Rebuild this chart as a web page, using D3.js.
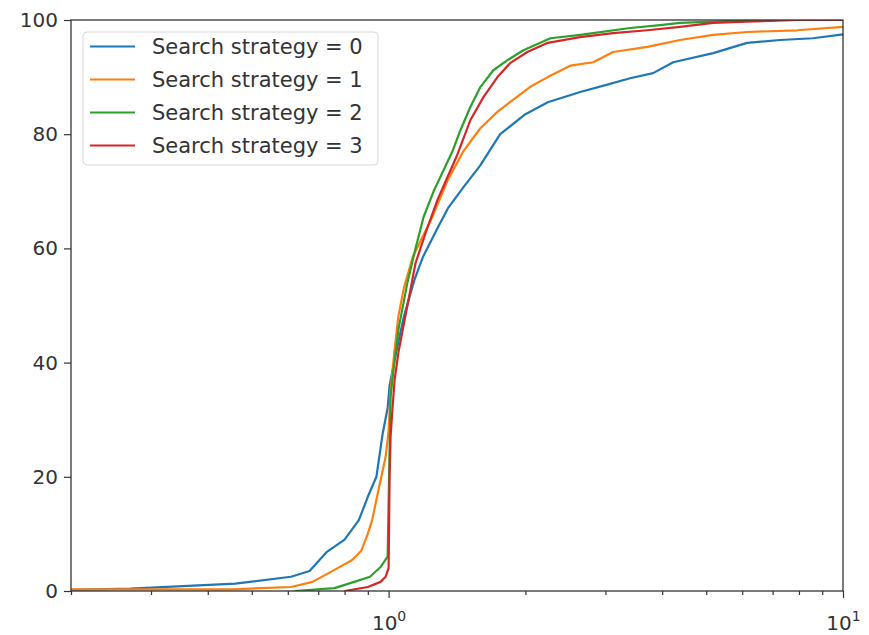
<!DOCTYPE html>
<html>
<head>
<meta charset="utf-8">
<script src="https://cdn.jsdelivr.net/npm/d3@7"></script>
<style>
  body { margin: 0; background: #fff; }
  text { font-family: "DejaVu Sans", sans-serif; }
</style>
</head>
<body>
<svg id="svg"></svg>
<script>
// values (x on log scale, y in percent)
const seriesNames = ["Search strategy = 0", "Search strategy = 1", "Search strategy = 2", "Search strategy = 3"];

const x0 = [0.2, 0.27, 0.46, 0.61, 0.67, 0.73, 0.80, 0.86, 0.90, 0.94, 0.97, 0.995, 1.005, 1.04, 1.08, 1.14, 1.19, 1.28, 1.35, 1.46, 1.59, 1.76, 2.0, 2.24, 2.64, 3.0, 3.4, 3.82, 4.23, 5.18, 6.15, 7.27, 8.59, 10];
const y0 = [0.2, 0.4, 1.3, 2.5, 3.5, 6.8, 9, 12.4, 16.5, 20, 27.5, 32, 36, 42, 48, 54.5, 58.5, 63.5, 67, 70.7, 74.5, 80, 83.5, 85.6, 87.4, 88.6, 89.8, 90.7, 92.6, 94.2, 96, 96.5, 96.8, 97.5];

const x1 = [0.2, 0.45, 0.61, 0.68, 0.76, 0.83, 0.87, 0.90, 0.92, 0.95, 0.985, 1.0, 1.01, 1.03, 1.05, 1.08, 1.13, 1.24, 1.35, 1.46, 1.59, 1.74, 2.05, 2.24, 2.51, 2.82, 3.12, 3.71, 4.38, 5.18, 6.15, 7.92, 10];
const y1 = [0.3, 0.3, 0.7, 1.6, 3.7, 5.4, 7, 10, 12.4, 17.7, 23.5, 28, 35, 42, 48, 53, 58.5, 65, 72, 77, 81, 84, 88.3, 90, 92, 92.6, 94.4, 95.3, 96.5, 97.4, 97.9, 98.2, 98.8];

const x2 = [0.62, 0.76, 0.84, 0.91, 0.96, 0.995, 1.01, 1.026, 1.052, 1.10, 1.146, 1.194, 1.256, 1.321, 1.382, 1.439, 1.514, 1.593, 1.70, 1.83, 1.98, 2.27, 2.64, 3.4, 3.96, 4.38, 5.18, 6.24, 10];
const y2 = [0, 0.5, 1.6, 2.5, 4.2, 6, 34, 39, 46, 54, 60, 65.5, 70, 73.7, 77, 80.7, 84.8, 88.3, 91.2, 93, 94.7, 96.8, 97.4, 98.6, 99.1, 99.5, 99.7, 100, 100];

const x3 = [0.80, 0.90, 0.96, 0.985, 1.0, 1.005, 1.01, 1.02, 1.031, 1.052, 1.10, 1.146, 1.206, 1.281, 1.348, 1.418, 1.514, 1.617, 1.736, 1.854, 2.02, 2.24, 2.64, 3.12, 3.71, 4.38, 5.18, 6.15, 8.0, 10];
const y3 = [0, 0.7, 1.6, 2.5, 4, 20, 27, 32, 37, 42, 50, 57.4, 62.7, 68.5, 72.5, 76.5, 82.5, 86.5, 90, 92.5, 94.4, 96, 97, 97.7, 98.2, 98.8, 99.5, 99.7, 100, 100];

const yTicks = [0, 20, 40, 60, 80, 100];
const xMajor = [1, 10];
const xMinor = [0.2, 0.3, 0.4, 0.5, 0.6, 0.7, 0.8, 0.9, 2, 3, 4, 5, 6, 7, 8, 9];

const colors = ["#1f77b4", "#ff7f0e", "#2ca02c", "#d62728"];
const series = [[x0, y0], [x1, y1], [x2, y2], [x3, y3]]
  .map(([xs, ys], i) => ({name: seriesNames[i], color: colors[i], pts: xs.map((v, j) => [v, ys[j]])}));

const width = 869, height = 635;
const mLeft = 71, mRight = 843, mTop = 20, mBottom = 591;

const svg = d3.select("#svg").attr("width", width).attr("height", height);

const x = d3.scaleLog().domain([0.2, 10]).range([mLeft, mRight]);
const y = d3.scaleLinear().domain([0, 100]).range([mBottom, mTop]);

svg.append("clipPath").attr("id", "clip")
  .append("rect").attr("x", mLeft).attr("y", mTop).attr("width", mRight - mLeft).attr("height", mBottom - mTop);

const line = d3.line().x(d => x(d[0])).y(d => y(d[1]));

svg.append("g").attr("clip-path", "url(#clip)")
  .selectAll("path")
  .data(series)
  .join("path")
    .attr("fill", "none")
    .attr("stroke", d => d.color)
    .attr("stroke-width", 2.2)
    .attr("stroke-linejoin", "round")
    .attr("d", d => line(d.pts));

// axes
const axisColor = "#333";
const fs = 20;

const gy = svg.append("g").attr("transform", `translate(${mLeft},0)`)
  .call(d3.axisLeft(y).tickValues(yTicks).tickSize(7).tickPadding(6).tickFormat(d3.format("d")));

const gxMinor = svg.append("g").attr("transform", `translate(0,${mBottom})`)
  .call(d3.axisBottom(x).tickValues(xMinor).tickSize(4).tickFormat(""));

const gx = svg.append("g").attr("transform", `translate(0,${mBottom})`)
  .call(d3.axisBottom(x).tickValues(xMajor).tickSize(7).tickFormat(""));

gx.selectAll(".tick")
  .append("text")
    .attr("fill", axisColor)
    .attr("font-size", fs)
    .attr("text-anchor", "middle")
    .attr("y", 39)
    .call(t => t.append("tspan").text("10"))
    .call(t => t.append("tspan").attr("font-size", 14).attr("dy", -9).text(d => Math.round(Math.log10(d))));

[gy, gx, gxMinor].forEach(g => {
  g.select(".domain").remove();
  g.selectAll("line").attr("stroke", axisColor).attr("stroke-width", 1.2);
});
gy.selectAll("text").attr("fill", axisColor).attr("font-size", fs);

svg.append("rect")
  .attr("x", mLeft).attr("y", mTop).attr("width", mRight - mLeft).attr("height", mBottom - mTop)
  .attr("fill", "none").attr("stroke", axisColor).attr("stroke-width", 1.3);

// legend
const legend = svg.append("g");
legend.append("rect")
  .attr("x", 83).attr("y", 32).attr("width", 295).attr("height", 133).attr("rx", 4)
  .attr("fill", "#fff").attr("fill-opacity", 0.8).attr("stroke", "#d8d8d8");

const item = legend.selectAll("g.item")
  .data(series)
  .join("g")
    .attr("class", "item")
    .attr("transform", (d, i) => `translate(0,${46.5 + i * 33})`);

item.append("line")
  .attr("x1", 90).attr("x2", 135)
  .attr("stroke", d => d.color).attr("stroke-width", 2.2);

item.append("text")
  .attr("x", 152).attr("dy", "0.35em")
  .attr("fill", axisColor).attr("font-size", 21)
  .text(d => d.name);
</script>
</body>
</html>
